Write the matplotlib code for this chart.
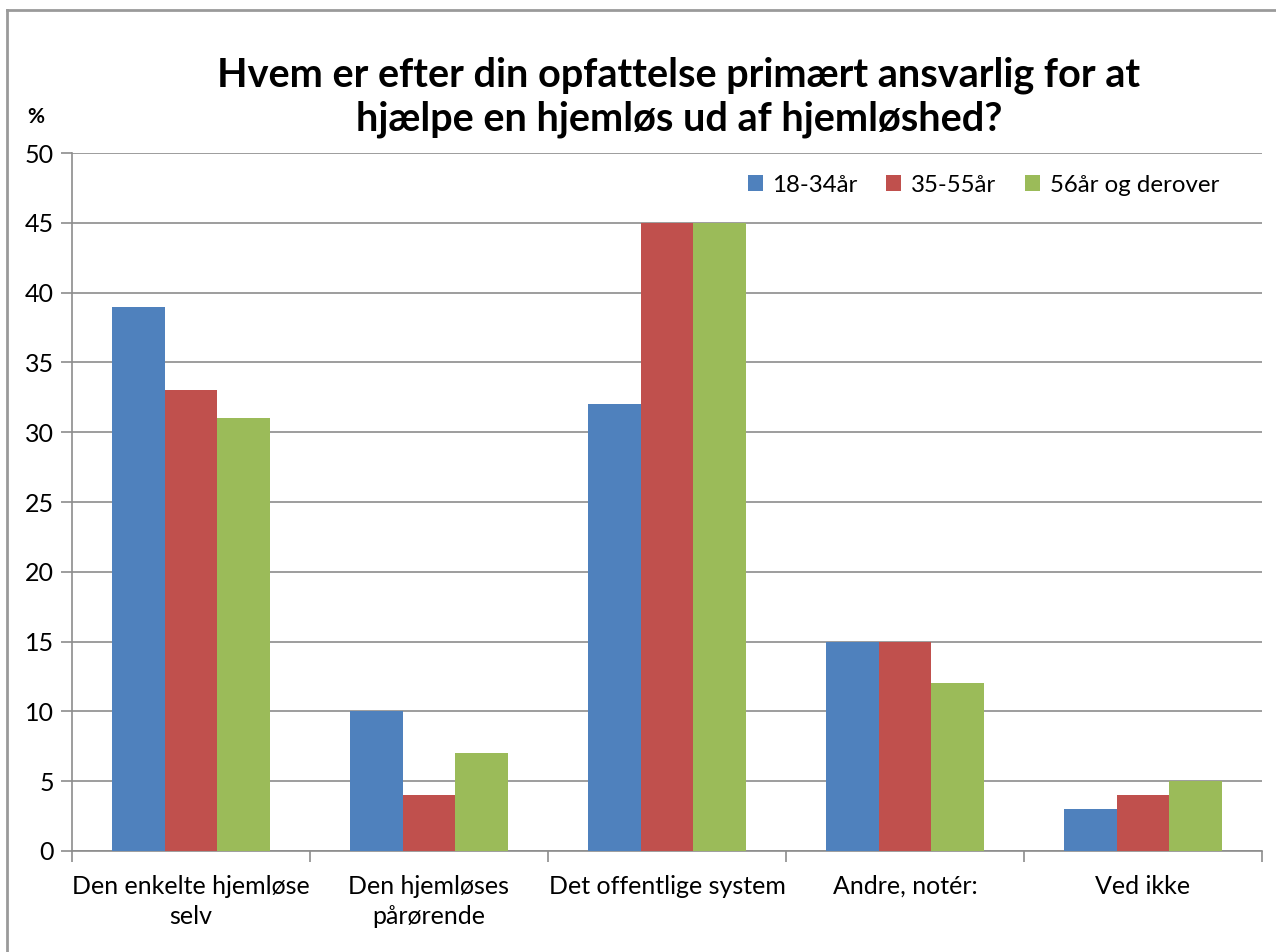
import matplotlib
matplotlib.use("Agg")
import matplotlib.pyplot as plt
from matplotlib.lines import Line2D
import numpy as np

categories = ["Den enkelte hjemløse\nselv", "Den hjemløses\npårørende",
              "Det offentlige system", "Andre, notér:", "Ved ikke"]
series_names = ["18-34år", "35-55år", "56år og derover"]
v_18_34 = [39, 10, 32, 15, 3]
v_35_55 = [33, 4, 45, 15, 4]
v_56 = [31, 7, 45, 12, 5]
colors = ["#4F81BD", "#C0504D", "#9BBB59"]

plt.rcParams["font.family"] = ["Lato", "DejaVu Sans"]

fig = plt.figure(figsize=(12.76, 9.52), dpi=100)
ax = fig.add_axes([72 / 1276, 1 - 851 / 952, (1262 - 72) / 1276, (851 - 153) / 952])

x = np.arange(len(categories))
w = 0.222
for i, (vals, name) in enumerate(zip([v_18_34, v_35_55, v_56], series_names)):
    ax.bar(x + (i - 1) * w, vals, width=w, color=colors[i], label=name, zorder=3)

ax.set_xlim(-0.5, len(categories) - 0.5)
ax.set_ylim(0, 50)
ax.set_yticks(range(0, 51, 5))
ax.yaxis.grid(True, color="#8c8c8c", lw=1.2, zorder=0)
ax.tick_params(axis="y", labelsize=18, length=8, width=1.2, color="#8c8c8c", pad=5)

# kategori-grænser som ticks, labels midt i kategorierne
ax.set_xticks(np.arange(-0.5, len(categories), 1.0))
ax.set_xticklabels([])
ax.set_xticks(x, minor=True)
ax.set_xticklabels(categories, minor=True, fontsize=18, linespacing=1.4)
ax.tick_params(axis="x", which="major", length=8, width=1.2, color="#8c8c8c")
ax.tick_params(axis="x", which="minor", length=0, pad=17)

for s in ["top", "right"]:
    ax.spines[s].set_visible(False)
for s in ["left", "bottom"]:
    ax.spines[s].set_color("#8c8c8c")
    ax.spines[s].set_linewidth(1.2)

ax.legend(loc="upper right", bbox_to_anchor=(0.982, 1.0), ncol=3, frameon=False,
          fontsize=17.3, handlelength=0.62, handleheight=0.62, handletextpad=0.4,
          columnspacing=1.2)

fig.text(679 / 1276, 1 - 97 / 952,
         "Hvem er efter din opfattelse primært ansvarlig for at\nhjælpe en hjemløs ud af hjemløshed?",
         ha="center", va="center", fontsize=28.5, fontweight="bold", linespacing=1.22)
fig.text(36 / 1276, 1 - 117 / 952, "%", ha="center", va="center",
         fontsize=15, fontweight="bold")

# ramme om diagrammet (kun venstre og top synlig)
fig.add_artist(Line2D([7 / 1276, 7 / 1276], [0, 1 - 10 / 952], transform=fig.transFigure,
                      color="#9a9a9a", lw=2))
fig.add_artist(Line2D([7 / 1276, 1], [1 - 10 / 952, 1 - 10 / 952], transform=fig.transFigure,
                      color="#9a9a9a", lw=2))

fig.savefig("out.png", dpi=100)
